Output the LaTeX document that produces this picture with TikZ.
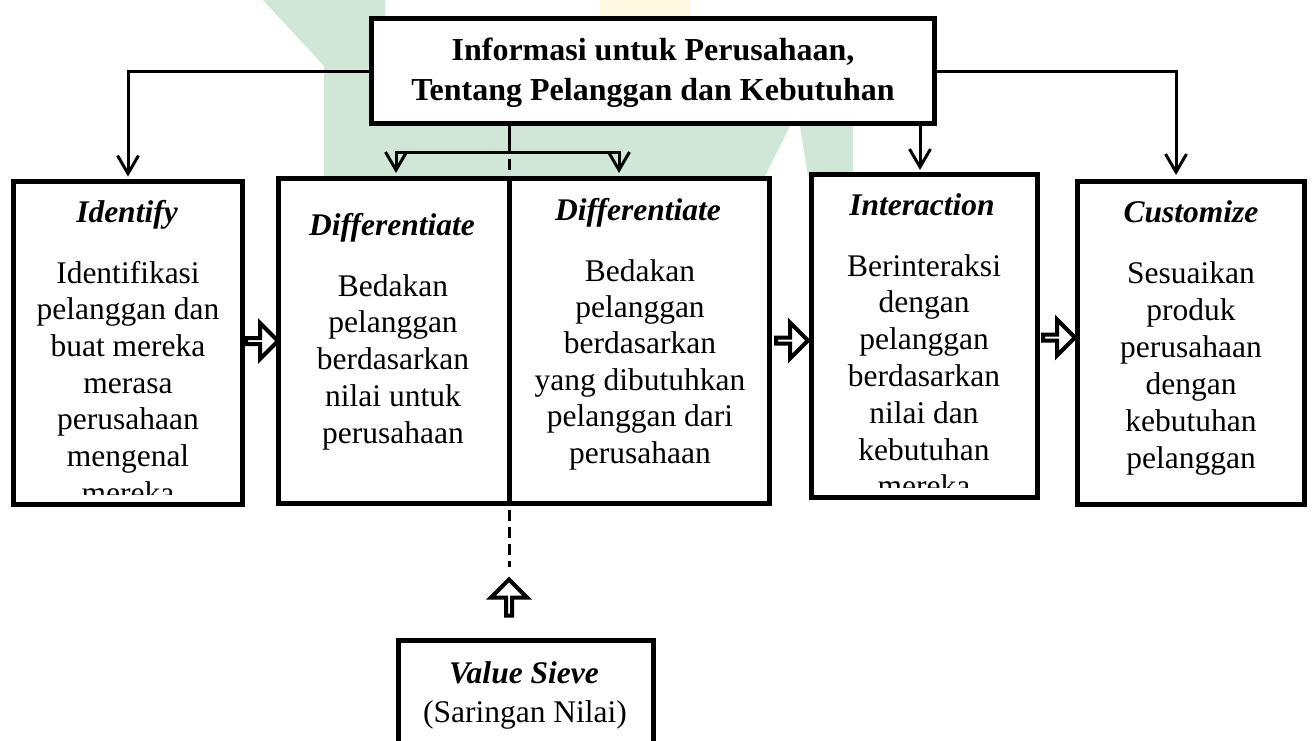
\documentclass[tikz,border=0pt]{standalone}
\usepackage{fontspec}
\setmainfont{Liberation Serif}
\usetikzlibrary{arrows.meta,shapes.arrows,calc}
\definecolor{wmgreen}{HTML}{D0E7D7}
\definecolor{wmyellow}{HTML}{FFF9E2}
\begin{document}
\begin{tikzpicture}[x=1pt,y=-1pt,
  box/.style={draw, rectangle, line width=5pt, inner sep=0pt, outer sep=0pt, fill=white},
  conn/.style={line width=3pt, -{Straight Barb[length=18pt,width=21pt,line width=3pt]}},
  plain/.style={line width=3pt},
  dline/.style={line width=3pt, dash pattern=on 11pt off 6pt},
  body/.style={inner sep=0pt, anchor=base, font=\fontsize{31.5}{36.8}\selectfont},
  ttl/.style={inner sep=0pt, anchor=base, font=\fontsize{31.5}{36.8}\selectfont\bfseries\itshape},
  rblock/.style={single arrow, draw, fill=white, line width=4pt, inner sep=0pt,
    minimum height=32pt, minimum width=36pt, single arrow head extend=10pt},
  ublock/.style={rblock, shape border rotate=90, minimum height=36pt, minimum width=36pt},
  wm/.style={fill=wmgreen, draw=none}
]
\useasboundingbox (0,0) rectangle (1314,740);
\fill[white] (0,0) rectangle (1314,740);

% faint background watermark
\fill[wm] (263,0) -- (385,0) -- (385,126) -- (366,126) -- (366,176) -- (324,176) -- (324,66) -- cycle;
\fill[wm] (366,126) -- (790,126) -- (765,176) -- (366,176) -- cycle;
\fill[wm] (800,126) -- (853,126) -- (853,176) -- (808,176) -- cycle;
\fill[wmyellow] (600,0) rectangle (690,16);

% boxes
\node[box, minimum width=563pt, minimum height=105pt] (top) at (653,71) {};
\node[box, minimum width=229pt, minimum height=323pt] (idf) at (128,343) {};
\node[box, minimum width=230.5pt, minimum height=325pt] (difA) at (393.75,341) {};
\node[box, minimum width=260.5pt, minimum height=325pt] (difB) at (639.25,341) {};
\node[box, minimum width=226pt, minimum height=323pt] (int) at (924.5,336) {};
\node[box, minimum width=227pt, minimum height=323pt] (cus) at (1191,343) {};
\node[box, minimum width=255pt, minimum height=130pt] (val) at (526,705.5) {};

% top text
\node[inner sep=0pt, anchor=base, font=\fontsize{32}{40}\selectfont\bfseries] (toptxt) at (653,60)
  {\parbox[t]{560pt}{\centering Informasi untuk Perusahaan,\\Tentang Pelanggan dan Kebutuhan}};

% titles
\node[ttl] (tidf) at (127,222) {Identify};
\node[ttl] (tdifA) at (392,235) {Differentiate};
\node[ttl] (tdifB) at (638,220) {Differentiate};
\node[ttl] (tint) at (922,215) {Interaction};
\node[ttl] (tcus) at (1191,222) {Customize};

% bodies
\begin{scope}
\clip (0,0) rectangle (260,494);
\node[body] (bidf) at (128,283) {\parbox[t]{225pt}{\centering\fontsize{31.5}{36.7}\selectfont Identifikasi\\pelanggan dan\\buat mereka\\merasa\\perusahaan\\mengenal\\mereka}};
\end{scope}
\node[body] (bdifA) at (393,296) {\parbox[t]{225pt}{\centering\fontsize{31.5}{36.75}\selectfont Bedakan\\pelanggan\\berdasarkan\\nilai untuk\\perusahaan}};
\node[body] (bdifB) at (640,281) {\parbox[t]{255pt}{\centering\fontsize{31.5}{36.4}\selectfont Bedakan\\pelanggan\\berdasarkan\\yang dibutuhkan\\pelanggan dari\\perusahaan}};
\begin{scope}
\clip (790,0) rectangle (1060,487);
\node[body] (bint) at (924,276) {\parbox[t]{222pt}{\centering\fontsize{31.5}{36.8}\selectfont Berinteraksi\\dengan\\pelanggan\\berdasarkan\\nilai dan\\kebutuhan\\mereka}};
\end{scope}
\node[body] (bcus) at (1191,283) {\parbox[t]{222pt}{\centering\fontsize{31.5}{37}\selectfont Sesuaikan\\produk\\perusahaan\\dengan\\kebutuhan\\pelanggan}};

\node[ttl] (tval) at (524,683) {Value Sieve};
\node[body] (bval) at (525,722) {(Saringan Nilai)};

% connector points
\coordinate (hub) at (509,152);
\coordinate (dAin) at (396,173);
\coordinate (dBin) at (619,173);
\coordinate (intin) at (920,170);
\coordinate (cusin) at (1176,175);
\coordinate (dashend) at (509,567);

% connectors
\draw[conn, shorten >=5pt] (top.west) -| (idf.north);
\draw[conn] (top.east) -| (cusin);
\draw[conn] (top.south -| intin) -- (intin);
\draw[plain] (top.south -| hub) -- (hub);
\draw[conn] (hub) -| (dAin);
\draw[conn] (hub) -| (dBin);
\draw[dline, shorten <=7pt, shorten >=8pt] (hub) -- (difA.north east);
\draw[dline, shorten <=6pt] (difA.south east) -- (dashend);

% block arrows
\node[rblock] (a1) at ($(idf.east)!0.5!(difA.west)+(0,-1)$) {};
\node[rblock] (a2) at ($(difB.east)!0.5!(int.west)+(0,2)$) {};
\node[rblock] (a3) at ($(int.east)!0.5!(cus.west)+(0,-2)$) {};
\node[ublock] (a4) at (509,599) {};
\end{tikzpicture}
\end{document}
